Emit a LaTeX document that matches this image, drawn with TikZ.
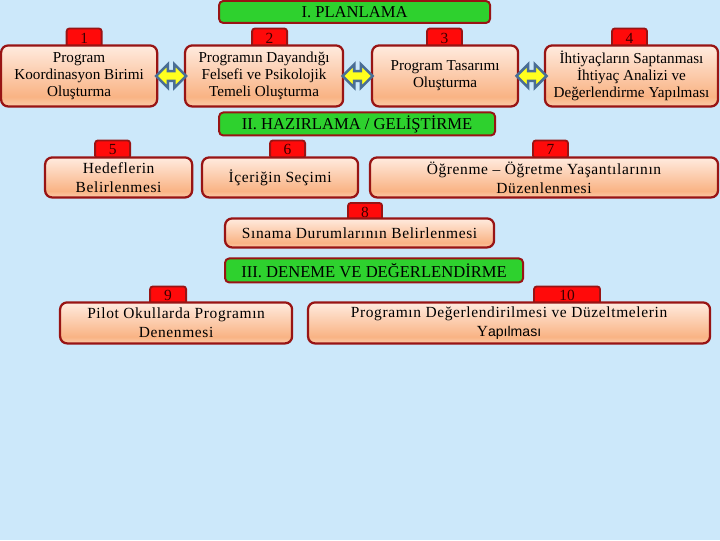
\documentclass[tikz,border=0pt]{standalone}
\usepackage{fontspec}
\setmainfont{Liberation Serif}
\setsansfont{Liberation Sans}
\newfontfamily\spacedfont[LetterSpace=4]{Liberation Serif}
\usetikzlibrary{shapes.arrows,positioning,calc}
\definecolor{bgblue}{HTML}{CCE8FA}
\definecolor{edgered}{HTML}{981414}
\definecolor{tabred}{HTML}{FF0A0A}
\definecolor{phasegreen}{HTML}{2ED12E}
\definecolor{ptop}{HTML}{FFEBDF}
\definecolor{pmid}{HTML}{F9B384}
\definecolor{pbot}{HTML}{FBCBA8}
\definecolor{arrowblue}{HTML}{4A6E95}
\definecolor{arrowyellow}{HTML}{FFFF1E}
\definecolor{numtext}{HTML}{3A0000}
\pgfdeclareverticalshading{peach}{100bp}{color(0bp)=(pbot); color(25bp)=(pbot);
  color(33bp)=(pmid); color(75bp)=(ptop); color(100bp)=(ptop)}
\tikzset{
  stepbox/.style={rectangle, rounded corners=5pt, draw=edgered, line width=1.6pt,
                  shading=peach, align=center, font=\fontsize{10.8}{12.3}\selectfont,
                  inner sep=1pt},
  widebox/.style={stepbox, font=\spacedfont\fontsize{11}{13.5}\selectfont},
  numtab/.style={rectangle, rounded corners=2pt, draw=edgered, line width=1.3pt,
                 fill=tabred, text=numtext, font=\fontsize{11}{11}\selectfont,
                 minimum height=0.5cm, inner sep=0pt, text depth=0pt},
  phase/.style={rectangle, rounded corners=3pt, draw=edgered, line width=1.4pt,
                fill=phasegreen, font=\fontsize{11.8}{12}\selectfont, inner sep=0pt},
  dblarr/.style={double arrow, draw=arrowblue, fill=arrowyellow, line width=1.8pt,
                 minimum height=0.75cm, inner sep=0.09cm,
                 double arrow head extend=0.17cm}
}

\begin{document}
\begin{tikzpicture}[x=0.025cm, y=-0.025cm]
\fill[bgblue] (0,0) rectangle (720,540);
\node[phase, minimum width=6.775cm, minimum height=0.55cm] (plan) at (354.5,11.5) {I. PLANLAMA};
\node[numtab, minimum width=0.875cm] (t1) at (84,38) {1};
\node[numtab, minimum width=0.875cm] (t2) at (269.5,38) {2};
\node[numtab, minimum width=0.875cm] (t3) at (444.5,38) {3};
\node[numtab, minimum width=0.875cm] (t4) at (629.5,38) {4};
\node[stepbox, minimum width=3.9cm, minimum height=1.525cm] (koord) at (79,75.5)
  {Program\\Koordinasyon Birimi\\Oluşturma};
\node[stepbox, minimum width=3.95cm, minimum height=1.525cm] (felsefe) at (264,75.5)
  {Programın Dayandığı\\Felsefi ve Psikolojik\\Temeli Oluşturma};
\node[stepbox, minimum width=3.65cm, minimum height=1.525cm] (tasarim) at (445,75.5)
  {Program Tasarımı\\Oluşturma};
\node[stepbox, minimum width=4.325cm, minimum height=1.525cm] (ihtiyac) at (631.5,75.5)
  {İhtiyaçların Saptanması\\İhtiyaç Analizi ve\\Değerlendirme Yapılması};
\node[dblarr] (a12) at ($(koord.east)!0.5!(felsefe.west)$) {};
\node[dblarr] (a23) at ($(felsefe.east)!0.5!(tasarim.west)$) {};
\node[dblarr] (a34) at ($(tasarim.east)!0.5!(ihtiyac.west)$) {};
\node[phase, minimum width=6.9cm, minimum height=0.575cm] (hazir) at (357,123.5) {II. HAZIRLAMA / GELİŞTİRME};
\node[numtab, minimum width=0.875cm, minimum height=0.45cm] (t5) at (112.5,149) {5};
\node[numtab, minimum width=0.875cm, minimum height=0.45cm] (t6) at (287.5,149) {6};
\node[numtab, minimum width=0.875cm, minimum height=0.45cm] (t7) at (550.5,149) {7};
\node[numtab, minimum width=0.85cm, minimum height=0.45cm] (t8) at (365,211.5) {8};
\node[widebox, minimum width=3.675cm, minimum height=1.0cm] (hedef) at (118.5,177)
  {Hedeflerin\\Belirlenmesi};
\node[widebox, minimum width=3.9cm, minimum height=1.0cm] (icerik) at (280,177)
  {İçeriğin Seçimi};
\node[widebox, minimum width=8.7cm, minimum height=1.0cm] (yasanti) at (544,177)
  {Öğrenme – Öğretme Yaşantılarının\\Düzenlenmesi};
\node[widebox, minimum width=6.725cm, minimum height=0.725cm] (sinama) at (359.5,232.5)
  {Sınama Durumlarının Belirlenmesi};
\node[phase, minimum width=7.45cm, minimum height=0.6cm] (deneme) at (374,270) {III. DENEME VE DEĞERLENDİRME};
\node[numtab, minimum width=0.9cm, minimum height=0.45cm] (t9) at (168,295) {9};
\node[numtab, minimum width=1.65cm, minimum height=0.45cm] (t10) at (567,295) {10};
\node[widebox, minimum width=5.8cm, minimum height=1.025cm] (pilot) at (176,322.5)
  {Pilot Okullarda Programın\\Denenmesi};
\node[widebox, minimum width=10.05cm, minimum height=1.025cm] (duzelt) at (509,322.5)
  {Programın Değerlendirilmesi ve Düzeltmelerin\\Y{\sffamily\fontsize{10}{12}\selectfont apılması}};
\end{tikzpicture}
\end{document}
